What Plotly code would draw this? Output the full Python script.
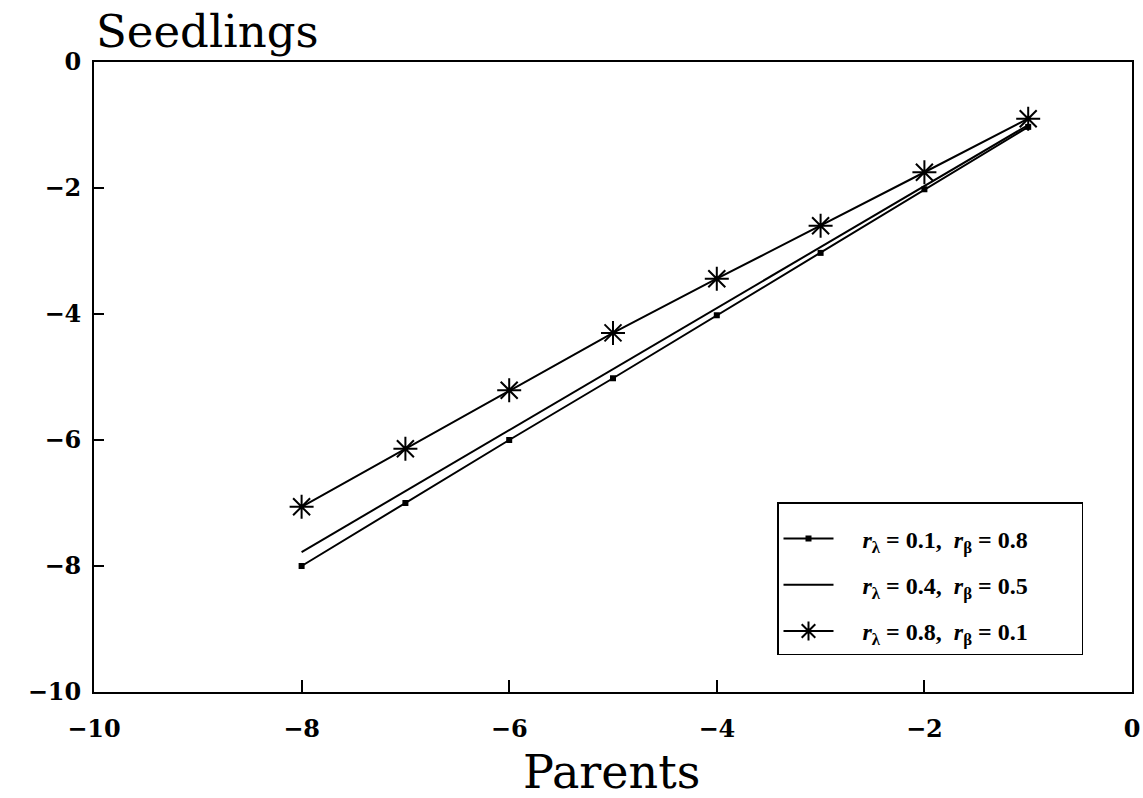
import plotly.graph_objects as go

# Parent vs seedling values (log scale units)
parents = [-8, -7, -6, -5, -4, -3, -2, -1]
seedlings_a = [-8.0, -7.0, -6.0, -5.02, -4.02, -3.03, -2.02, -1.03]   # r_lambda=0.1, r_beta=0.8
seedlings_b = [-7.78, -6.81, -5.84, -4.87, -3.90, -2.94, -1.97, -1.0]  # r_lambda=0.4, r_beta=0.5
seedlings_c = [-7.06, -6.14, -5.21, -4.30, -3.44, -2.60, -1.75, -0.90]  # r_lambda=0.8, r_beta=0.1

r_lambda = ["0.1", "0.4", "0.8"]
r_beta = ["0.8", "0.5", "0.1"]

x_ticks = [-10, -8, -6, -4, -2, 0]
y_ticks = [0, -2, -4, -6, -8, -10]

SP = "&nbsp;"


def legend_name(lam, beta):
    return (f"{SP * 4}<b><i>r</i><sub>λ</sub> = {lam},{SP} "
            f"<i>r</i><sub>β</sub> = {beta}</b>{SP * 8}")


def tick_text(vals):
    return [f"<b>{'−' if v < 0 else ''}{abs(v)}</b>" for v in vals]


fig = go.Figure()
fig.add_trace(go.Scatter(
    x=parents, y=seedlings_a, name=legend_name(r_lambda[0], r_beta[0]),
    legendgroup="a", mode="lines+markers", line=dict(color="black", width=2),
    marker=dict(symbol="square", size=6, color="black")))
fig.add_trace(go.Scatter(
    x=parents, y=seedlings_b, name=legend_name(r_lambda[1], r_beta[1]),
    legendgroup="b", mode="lines", line=dict(color="black", width=2)))
fig.add_trace(go.Scatter(
    x=parents, y=seedlings_c, name=legend_name(r_lambda[2], r_beta[2]),
    legendgroup="c", mode="lines+markers", line=dict(color="black", width=2),
    marker=dict(symbol="asterisk-open", size=20,
                line=dict(color="black", width=2), color="black")))

tick_font = dict(family="DejaVu Serif", size=24, color="black")

PLOT_L, PLOT_R, PLOT_T, PLOT_B = 94, 1132, 62, 692
plot_w = PLOT_R - PLOT_L
plot_h = PLOT_B - PLOT_T

fig.update_layout(
    width=1143, height=798,
    margin=dict(l=PLOT_L, r=1143 - PLOT_R, t=PLOT_T, b=798 - PLOT_B),
    paper_bgcolor="white", plot_bgcolor="white",
    showlegend=True,
    legend=dict(
        x=(777 - PLOT_L) / plot_w, y=(PLOT_B - 502) / plot_h,
        xanchor="left", yanchor="top",
        bordercolor="black", borderwidth=1.5, bgcolor="white",
        font=dict(family="Liberation Serif", size=24, color="black"),
        title=dict(text=" ", font=dict(size=10)),
        tracegroupgap=12, traceorder="grouped", itemwidth=50,
    ),
    xaxis=dict(
        range=[-10, 0], tickvals=x_ticks, ticktext=tick_text(x_ticks),
        ticks="inside", ticklen=12, tickwidth=2, tickcolor="black",
        showline=True, linecolor="black", linewidth=2, mirror=True,
        showgrid=False, zeroline=False, tickfont=tick_font,
        ticklabelstandoff=14, automargin=False,
    ),
    yaxis=dict(
        range=[-10, 0], tickvals=y_ticks, ticktext=tick_text(y_ticks),
        ticks="inside", ticklen=10, tickwidth=2, tickcolor="black",
        showline=True, linecolor="black", linewidth=2, mirror=True,
        showgrid=False, zeroline=False, tickfont=tick_font,
        ticklabelstandoff=6, automargin=False,
    ),
    annotations=[
        dict(text="Seedlings", xref="paper", yref="paper", x=0.0, y=1.0,
             xanchor="left", yanchor="bottom", showarrow=False, yshift=2,
             font=dict(family="DejaVu Serif", size=45, color="black")),
        dict(text="Parents",
             xref="paper", yref="paper", x=(611 - PLOT_L) / plot_w, y=0,
             xanchor="center", yanchor="bottom", showarrow=False, yshift=-109,
             font=dict(family="DejaVu Serif", size=46, color="black")),
    ],
)

fig.write_html("out.html")
